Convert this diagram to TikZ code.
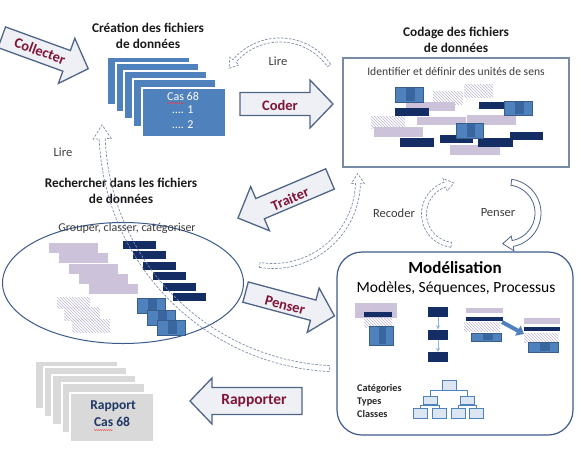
\documentclass[tikz,border=0pt]{standalone}
\usepackage{fontspec}
\setmainfont{Carlito}
\usetikzlibrary{shapes.geometric,patterns,arrows.meta,decorations.pathmorphing}
\definecolor{afill}{RGB}{238,240,245}
\definecolor{adraw}{RGB}{80,100,135}
\definecolor{maroon}{RGB}{128,20,55}
\definecolor{blueA}{RGB}{79,129,189}
\definecolor{blueB}{RGB}{56,93,138}
\definecolor{blueC}{RGB}{58,102,160}
\definecolor{navy}{RGB}{20,45,100}
\definecolor{lav}{RGB}{204,194,218}
\definecolor{hatchc}{RGB}{190,182,210}
\definecolor{stackgray}{RGB}{217,217,217}
\definecolor{framec}{RGB}{120,138,165}
\definecolor{ellc}{RGB}{60,90,140}
\definecolor{dashc}{RGB}{125,140,168}
\definecolor{txtgray}{RGB}{60,60,60}
\definecolor{lightblue}{RGB}{141,180,226}
\definecolor{hfill}{RGB}{220,230,242}
\definecolor{rapc}{RGB}{31,56,100}
% block arrow: x, y, angle, length, shaft half, head half, head length
\newcommand\blockarr[7]{%
  \begin{scope}[shift={(#1,#2)},rotate=#3]
    \draw[barrow] ({-(#4)/2},{-(#5)}) -- ({(#4)/2-(#7)},{-(#5)}) -- ({(#4)/2-(#7)},{-(#6)})
      -- ({(#4)/2},0) -- ({(#4)/2-(#7)},{#6}) -- ({(#4)/2-(#7)},{#5}) -- ({-(#4)/2},{#5}) -- cycle;
  \end{scope}}
% curved block arrow: style, cx, cy, r, a0, a1, width, head width, head length
\newcommand\curvarr[9]{%
  \pgfmathsetmacro\cvS{ifthenelse((#6)>(#5),1,-1)}%
  \pgfmathsetmacro\cvB{(#6)-(\cvS)*(#9)/(#4)*180/pi}%
  \pgfmathsetmacro\cvRo{(#4)+(#7)/2}%
  \pgfmathsetmacro\cvRi{(#4)-(#7)/2}%
  \pgfmathsetmacro\cvHo{(#4)+(#8)/2}%
  \pgfmathsetmacro\cvHi{(#4)-(#8)/2}%
  \draw[#1] plot[domain=0:1,samples=40,variable=\t] ({#2+\cvRo*cos((#5)+\t*((\cvB)-(#5)))},{#3+\cvRo*sin((#5)+\t*((\cvB)-(#5)))})
    -- ({#2+\cvHo*cos(\cvB)},{#3+\cvHo*sin(\cvB)})
    -- ({#2+(#4)*cos(#6)},{#3+(#4)*sin(#6)})
    -- ({#2+\cvHi*cos(\cvB)},{#3+\cvHi*sin(\cvB)})
    -- plot[domain=0:1,samples=40,variable=\t] ({#2+\cvRi*cos((\cvB)+\t*((#5)-(\cvB)))},{#3+\cvRi*sin((\cvB)+\t*((#5)-(\cvB)))})
    -- cycle;}
\newcommand\bluesq[4]{%
  \draw[fill=blueA,draw=blueB,line width=0.8pt] (#1,#2) rectangle (#3,#4);
  \fill[blueC] ({#1+0.4*(#3-#1)},{#2+1}) rectangle ({#1+0.72*(#3-#1)},{#4-1});}
\newcommand\navybar[4]{\fill[navy] (#1,#2) rectangle (#3,#4);}
\newcommand\lavbar[4]{\fill[lav] (#1,#2) rectangle (#3,#4);}
\newcommand\hatchbox[4]{\fill[pattern=north west lines,pattern color=hatchc] (#1,#2) rectangle (#3,#4);}
\begin{document}
\begin{tikzpicture}[x=1pt,y=-1pt,
  barrow/.style={draw=adraw,fill=afill,line width=1.3pt,line join=miter},
  atext/.style={font=\bfseries\fontsize{14.5}{16}\selectfont,text=maroon,inner sep=0},
  ttl/.style={font=\bfseries\fontsize{13.3}{16}\selectfont,align=center,inner sep=0,text=black!90},
  lbl/.style={font=\fontsize{12.5}{14}\selectfont,text=txtgray,inner sep=0},
  filecard/.style={fill=blueA,draw=white,line width=1.2pt},
  graycard/.style={fill=stackgray,draw=white,line width=1.2pt},
  dband/.style={draw=dashc,line width=0.7pt,dash pattern=on 2.5pt off 1.5pt},
  sband/.style={draw=adraw,line width=0.8pt,fill=white},
  hbox/.style={draw=blueA,fill=hfill,line width=0.7pt,minimum width=14pt,minimum height=10pt,inner sep=0},
  hline/.style={draw=blueA,line width=0.6pt},
  navybox/.style={fill=navy,minimum width=20pt,minimum height=10pt,inner sep=0},
  squig/.style={draw=red!80,line width=0.4pt,decorate,decoration={snake,amplitude=0.5pt,segment length=2pt}}]
\useasboundingbox (0,0) rectangle (581,450);

% ---------- top left: creation des fichiers ----------
\node[ttl] (tcreation) at (148,36) {Création des fichiers\\de données};
\draw[filecard] (107,57) rectangle (190,105);
\draw[filecard] (116,63) rectangle (199,112);
\draw[filecard] (124,71) rectangle (207,119);
\draw[filecard] (133,79) rectangle (216,127);
\draw[filecard] (142,88) rectangle (226,137);
\node[font=\fontsize{12}{14}\selectfont,text=white,inner sep=0] (cas) at (183,96) {Cas 68};
\node[font=\fontsize{12}{14}\selectfont,text=white,inner sep=0] (c1) at (183,110) {…. 1};
\node[font=\fontsize{12}{14}\selectfont,text=white,inner sep=0] (c2) at (183,125) {…. 2};
\draw[squig] (167,103) -- (184,103);

% ---------- codage box ----------
\node[ttl] (tcodage) at (456,39.5) {Codage des fichiers\\de données};
\node[draw=framec,line width=1.5pt,fill=white,minimum width=226pt,minimum height=109pt,inner sep=0] (codage) at (456,112.5) {};
\node[lbl,font=\fontsize{11.6}{14}\selectfont] (identifier) at (456,72) {Identifier et définir des unités de sens};
\hatchbox{433}{91}{463}{104}
\hatchbox{464}{84}{493}{97}
\hatchbox{371}{116}{405}{128}
\lavbar{406}{102}{455}{111}
\lavbar{417}{117}{466}{125}
\lavbar{467}{115}{516}{125}
\lavbar{374}{127}{423}{137}
\lavbar{450}{145}{500}{155}
\navybar{395}{108}{429}{116}
\navybar{479}{102}{513}{109}
\navybar{400}{138}{434}{147}
\navybar{440}{135}{473}{143}
\navybar{478}{138}{513}{147}
\navybar{510}{132}{543}{140}
\bluesq{395}{87}{423}{102}
\bluesq{504}{101}{532}{115}
\bluesq{456}{123}{483}{138}

% ---------- ellipse: rechercher ----------
\node[ttl] (trecherche) at (121,190.5) {Rechercher dans les fichiers\\de données};
\node[ellipse,draw=ellc,line width=1pt,fill=white,minimum width=241pt,minimum height=121pt,inner sep=0] (ell) at (123,283) {};
\node[lbl,font=\fontsize{12}{14}\selectfont] (grouper) at (127,228) {Grouper, classer, catégoriser};
\foreach \k in {0,...,4}{\lavbar{49+10*\k}{243+10.3*\k}{98+10*\k}{253+10.3*\k}}
\foreach \k in {0,...,5}{\navybar{123+10*\k}{241+10.4*\k}{156+10*\k}{249+10.4*\k}}
\hatchbox{57}{297}{90}{308}
\hatchbox{64}{307}{100}{320}
\hatchbox{72}{319}{110}{332}
\bluesq{137}{298}{165}{313}
\bluesq{147}{310}{175}{325}
\bluesq{157}{320}{185}{335}

% ---------- modelisation ----------
\node[draw=ellc,line width=1.2pt,fill=white,rounded corners=25pt,minimum width=236pt,minimum height=183pt,inner sep=0] (model) at (455,343.5) {};
\node[font=\bfseries\fontsize{17}{19}\selectfont,inner sep=0] (tmodel) at (455,268) {Modélisation};
\node[font=\fontsize{15.5}{17}\selectfont,inner sep=0] (tmodeles) at (456,288) {Modèles, Séquences, Processus};
% group 1
\lavbar{355}{303}{397}{318}
\navybar{364}{312}{392}{317}
\hatchbox{364}{318}{392}{327}
\bluesq{369}{326}{393}{345}
% group 2
\node[navybox] (m2a) at (438,312) {};
\node[navybox] (m2b) at (438,334.5) {};
\node[navybox] (m2c) at (438,357) {};
\draw[lightblue,line width=0.8pt,-{Stealth[length=4pt,width=4pt]}] (m2a) -- (m2b);
\draw[lightblue,line width=0.8pt,-{Stealth[length=4pt,width=4pt]}] (m2b) -- (m2c);
% group 3
\lavbar{466}{308}{503}{313}
\navybar{466}{317}{503}{321}
\hatchbox{464}{322}{500}{331}
\bluesq{471}{333}{501}{341}
% group 4
\lavbar{524}{318}{560}{324}
\navybar{524}{327}{560}{331}
\hatchbox{524}{333}{558}{342}
\bluesq{528}{342}{558}{352}
\coordinate (ba1) at (502,322);
\coordinate (ba2) at (524,334);
\draw[blueA,line width=4pt,-{Triangle[length=7pt,width=11pt]}] (ba1) -- (ba2);
% hierarchy
\node[font=\bfseries\fontsize{10.2}{12}\selectfont,anchor=west,inner sep=0,text=black!85] (lcat) at (357,389) {Catégories};
\node[font=\bfseries\fontsize{10.2}{12}\selectfont,anchor=west,inner sep=0,text=black!85] (ltyp) at (357,402) {Types};
\node[font=\bfseries\fontsize{10.2}{12}\selectfont,anchor=west,inner sep=0,text=black!85] (lcla) at (357,414) {Classes};
\node[hbox] (h0) at (449.5,385) {};
\node[hbox,minimum height=8pt] (h1) at (430,400) {};
\node[hbox,minimum height=8pt] (h2) at (467.5,400) {};
\node[hbox] (h3) at (420,413) {};
\node[hbox] (h4) at (439,413) {};
\node[hbox] (h5) at (458.5,413) {};
\node[hbox] (h6) at (476.5,413) {};
\draw[hline] (h0.south) -- ++(0,1);
\draw[hline] (h1.north) -- ++(0,-5) -| (h2.north);
\draw[hline] (h1.south) -- ++(0,2);
\draw[hline] (h3.north) -- ++(0,-2) -| (h4.north);
\draw[hline] (h2.south) -- ++(0,2);
\draw[hline] (h5.north) -- ++(0,-2) -| (h6.north);

% ---------- rapport stack ----------
\draw[graycard] (35,361) rectangle (118,409);
\draw[graycard] (44,367) rectangle (127,417);
\draw[graycard] (52,375) rectangle (136,425);
\draw[graycard] (62,383) rectangle (145,433);
\draw[graycard] (70,393) rectangle (154,442);
\node[font=\bfseries\fontsize{13.5}{15}\selectfont,text=rapc,inner sep=0] (rap) at (113,406) {Rapport};
\node[font=\bfseries\fontsize{13.5}{15}\selectfont,text=rapc,inner sep=0] (rapcas) at (112,422) {Cas 68};
\draw[squig] (94,430) -- (113,430);

% ---------- block arrows ----------
\blockarr{45}{53}{-20}{92}{11}{24}{23}
\node[atext,rotate=-20] (tcollecter) at (40,51) {Collecter};
\blockarr{286.5}{104}{0}{93}{11.5}{24}{23}
\node[atext] (tcoder) at (280,105) {Coder};
\blockarr{284}{198.5}{203}{100}{11}{24}{24}
\node[atext,rotate=23] (ttraiter) at (290,199) {Traiter};
\blockarr{290}{304}{-15}{92}{10.5}{23}{22}
\node[atext,rotate=-15] (tpenser) at (285,305) {Penser};
\blockarr{246}{401}{180}{112}{13.5}{23}{22}
\node[atext,font=\bfseries\fontsize{15.5}{17}\selectfont] (trapporter) at (254,401) {Rapporter};

% ---------- curved arrows ----------
\curvarr{dband,fill=white}{280}{100}{60}{-35}{-148}{4}{12}{9}
\node[lbl] (lire1) at (278,61) {Lire};
\curvarr{dband,fill=white}{273}{181}{85}{99}{-5}{5}{13}{10}
\curvarr{dband,fill=white}{455}{214}{31}{97}{268}{5}{13}{9}
\node[lbl] (recoder) at (394,213) {Recoder};
\curvarr{sband}{507}{213}{31}{-82}{98}{6}{15}{10}
\node[lbl] (penser2) at (498,213) {Penser};
\curvarr{dband}{342}{129}{240}{93}{181}{6}{18}{14}
\node[lbl] (lire2) at (63,152) {Lire};
\end{tikzpicture}
\end{document}
